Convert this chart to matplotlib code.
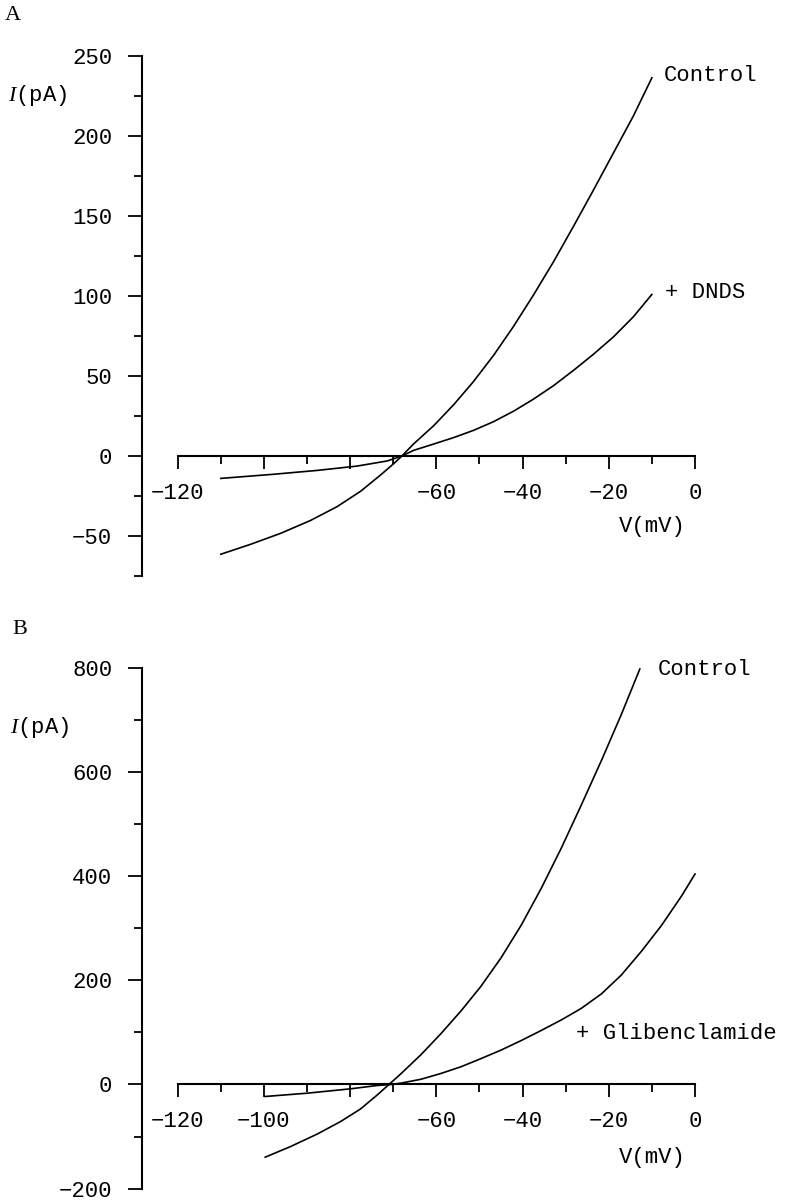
import numpy as np
import matplotlib
matplotlib.use("Agg")
import matplotlib.pyplot as plt

plt.rcParams["font.family"] = ["Liberation Mono", "DejaVu Sans Mono"]
plt.rcParams["mathtext.fontset"] = "custom"
plt.rcParams["mathtext.it"] = "Liberation Serif:italic"
plt.rcParams["mathtext.rm"] = "Liberation Mono"

MINUS = "\u2212"

# Panel A: control vs + DNDS (V in mV, I in pA)
a_ctrl_v = [-110, -103.1, -96.1, -89.2, -83, -77.6, -73, -69.9, -68, -65.3, -60.6, -56, -51.4,
            -46.7, -42.1, -37.5, -32.8, -28.2, -23.6, -18.9, -14.3, -10]
a_ctrl_i = [-61.4, -55.2, -48.3, -40.3, -31.6, -22.1, -12, -4.8, 0, 7.5, 19, 32, 46.5,
            63, 81, 100.5, 121.5, 143.5, 166, 189.5, 212.5, 236.4]
a_dnds_v = [-110, -97.7, -87.6, -78.4, -71.4, -68, -65.3, -60.6, -56, -51.4, -46.7, -42.1,
            -37.5, -32.8, -28.2, -23.6, -18.9, -14.3, -10]
a_dnds_i = [-14, -11.4, -9, -6.3, -3.1, 0, 3.5, 7.5, 11.5, 16, 21.5, 28,
            35.5, 44, 53.5, 63.5, 74.5, 87, 101]

# Panel B: control vs + Glibenclamide
b_ctrl_v = [-99.7, -93.8, -87.6, -82.2, -77.6, -73.7, -71, -68.3, -63.6, -59, -54.3, -49.7,
            -45, -40.3, -35.7, -31, -26.4, -21.7, -17.1, -12.8]
b_ctrl_i = [-139.5, -119, -95, -71, -47, -20, 0, 20, 57, 97, 141, 188,
            243, 306, 376, 454, 536, 622, 710, 797.5]
b_glib_v = [-99.7, -90, -79.9, -73.7, -70.5, -68.3, -63.6, -59, -54.3, -49.7, -45, -40.3,
            -35.7, -31, -26.4, -21.7, -17.1, -12.4, -7.8, -3.1, 0]
b_glib_i = [-23, -16.7, -8.3, -1.9, 0, 2.5, 10, 21, 34, 49.5, 66, 84.4,
            103.6, 124, 146, 174, 210, 256, 305, 362, 404]

x_major = [-120, -100, -80, -60, -40, -20, 0]
x_minor = [-110, -90, -70, -50, -30, -10]
a_xlabels = [MINUS + "120", "", "", MINUS + "60", MINUS + "40", MINUS + "20", "0"]
b_xlabels = [MINUS + "120", MINUS + "100", "", MINUS + "60", MINUS + "40", MINUS + "20", "0"]

a_ymajor = [-50, 0, 50, 100, 150, 200, 250]
a_yminor = [-75, -25, 25, 75, 125, 175, 225]
b_ymajor = [-200, 0, 200, 400, 600, 800]
b_yminor = [-100, 100, 300, 500, 700]

fig = plt.figure(figsize=(7.86, 12), dpi=100)
FS = 16


def setup(ax, ylim, ymaj, ymin, xlabels):
    ax.set_xlim(-128.4, 0)
    ax.set_ylim(*ylim)
    for s in ["top", "right"]:
        ax.spines[s].set_visible(False)
    ax.spines["bottom"].set_position(("data", 0))
    ax.spines["bottom"].set_bounds(-120, 0)
    ax.spines["left"].set_bounds(*ylim)
    for s in ["bottom", "left"]:
        ax.spines[s].set_linewidth(1.5)
    ax.set_xticks(x_major, labels=xlabels)
    ax.set_xticks(x_minor, minor=True)
    ax.set_yticks(ymaj, labels=[t.replace("-", MINUS) for t in map(str, ymaj)])
    ax.set_yticks(ymin, minor=True)
    ax.tick_params(axis="x", which="major", direction="out", length=9.2, width=1.3,
                   pad=10, labelsize=FS)
    ax.tick_params(axis="x", which="minor", direction="out", length=5.6, width=1.3)
    ax.tick_params(axis="y", which="major", direction="out", length=10, width=1.3,
                   pad=11, labelsize=FS)
    ax.tick_params(axis="y", which="minor", direction="out", length=5.8, width=1.3)
    ax.patch.set_visible(False)


# ---- Panel A ----
axA = fig.add_axes([0.18003, 0.52, 0.70420, 0.43333])
setup(axA, (-75, 250), a_ymajor, a_yminor, a_xlabels)
axA.plot(a_ctrl_v, a_ctrl_i, color="black", lw=1.2, clip_on=False)
axA.plot(a_dnds_v, a_dnds_i, color="black", lw=1.2, clip_on=False)
axA.text(-7.3, 238, "Control", ha="left", va="center", fontsize=FS)
axA.text(-7.0, 102, "+ DNDS", ha="left", va="center", fontsize=FS)
axA.text(-10, -44, "V(mV)", ha="center", va="center", fontsize=FS)

# ---- Panel B ----
axB = fig.add_axes([0.18003, 0.00942, 0.70420, 0.43417])
setup(axB, (-200, 800), b_ymajor, b_yminor, b_xlabels)
axB.plot(b_ctrl_v, b_ctrl_i, color="black", lw=1.2, clip_on=False)
axB.plot(b_glib_v, b_glib_i, color="black", lw=1.2, clip_on=False)
axB.text(-8.6, 797, "Control", ha="left", va="center", fontsize=FS)
axB.text(-27.6, 98, "+ Glibenclamide", ha="left", va="center", fontsize=FS)
axB.text(-10, -140, "V(mV)", ha="center", va="center", fontsize=FS)

# panel letters and y-axis labels
fig.text(5 / 786, 1 - 15 / 1200, "A", family="Liberation Serif", fontsize=FS,
         ha="left", va="center")
fig.text(12 / 786, 1 - 630 / 1200, "B", family="Liberation Serif", fontsize=FS,
         ha="left", va="center")
fig.text(8 / 786, 1 - 95 / 1200, "$I$(pA)", fontsize=FS, ha="left", va="center")
fig.text(10 / 786, 1 - 727 / 1200, "$I$(pA)", fontsize=FS, ha="left", va="center")

fig.savefig("out.png", dpi=100)
